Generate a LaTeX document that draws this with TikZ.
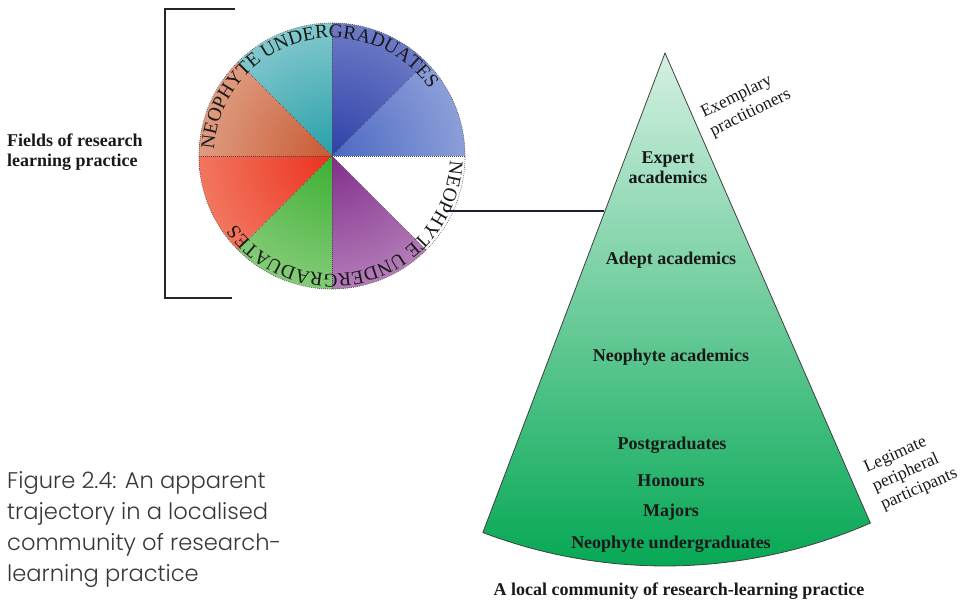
\documentclass[tikz,border=0pt]{standalone}
\usepackage{fontspec}
\setmainfont{Liberation Serif}
\newfontfamily\capfont{Poppins Light}
\usetikzlibrary{decorations.text}
\pgfdeclareradialshading[wedgein,wedgeout]{wedgeshade}{\pgfpointorigin}{color(0bp)=(wedgein); color(50bp)=(wedgeout)}
\definecolor{ink}{RGB}{25,25,25}
\definecolor{capgray}{RGB}{55,55,55}
\definecolor{coneTop}{RGB}{212,240,226}
\definecolor{coneMid}{RGB}{125,208,165}
\definecolor{coneBot}{RGB}{0,166,81}
\definecolor{linkcol}{RGB}{30,30,55}
\newcommand\wedgepiece[4]{%
  \colorlet{wedgein}{#3}\colorlet{wedgeout}{#4}%
  \begin{scope}
    \clip (0,0) -- (#1:133pt) arc[start angle=#1, end angle=#2, radius=133pt] -- cycle;
    \shade[shading=wedgeshade] (0,0) circle[radius=133pt];
  \end{scope}}
\tikzset{
  dotline/.style={draw=black!70, line width=0.7pt, dash pattern=on 0.7pt off 1.3pt},
  lbl/.style={font=\fontsize{18}{20}\selectfont\bfseries, text=ink, inner sep=0pt},
  sidelbl/.style={font=\fontsize{17.5}{20.5}\selectfont, text=ink, inner sep=0pt, align=left},
  bracketline/.style={draw=black!85, line width=2pt},
  conn/.style={draw=linkcol, line width=1.6pt},
}
\begin{document}
\begin{tikzpicture}[x=1pt,y=1pt]
\useasboundingbox (0,0) rectangle (962,-601);
% ---- circle of fields ----
\begin{scope}[shift={(332,-156)}]
  \wedgepiece{0}{45}{rgb,255:red,75;green,105;blue,195}{rgb,255:red,205;green,212;blue,238}
  \wedgepiece{45}{90}{rgb,255:red,45;green,65;blue,170}{rgb,255:red,175;green,180;blue,225}
  \wedgepiece{90}{135}{rgb,255:red,40;green,160;blue,170}{rgb,255:red,222;green,240;blue,240}
  \wedgepiece{135}{180}{rgb,255:red,200;green,90;blue,50}{rgb,255:red,245;green,222;blue,208}
  \wedgepiece{180}{225}{rgb,255:red,235;green,50;blue,30}{rgb,255:red,250;green,185;blue,160}
  \wedgepiece{225}{270}{rgb,255:red,60;green,175;blue,50}{rgb,255:red,205;green,232;blue,190}
  \wedgepiece{270}{315}{rgb,255:red,130;green,45;blue,140}{rgb,255:red,228;green,205;blue,228}
  \foreach \a in {0,45,...,315} \draw[dotline] (0,0) -- (\a:133pt);
  \draw[dotline] (0,0) circle[radius=133pt];
  \path[decorate, decoration={text along path, text align=center,
     text={|\fontsize{19.5}{20}\selectfont\color{ink}|NEOPHYTE UNDERGRADUATES}}]
     (195.5:118pt) arc[start angle=195.5, end angle=15.5, radius=118pt];
  \path[decorate, decoration={text along path, text align=center,
     text={|\fontsize{19.5}{20}\selectfont\color{ink}|NEOPHYTE UNDERGRADUATES}}]
     (16.5:118pt) arc[start angle=16.5, end angle=-163.5, radius=118pt];
\end{scope}
% ---- bracket ----
\draw[bracketline] (235,-9) -- (165,-9) -- (165,-298) -- (232,-298);
\node[lbl, anchor=north west, align=left] (fields) at (7,-133.5) {Fields of research\\learning practice};
% ---- cone ----
\coordinate (apex) at (665,-53);
\shade[top color=coneTop, middle color=coneMid, bottom color=coneBot, draw=black!75, line width=0.8pt]
  (apex) -- ++(249.2:513pt) arc[start angle=249.2, end angle=293.6, radius=513pt] -- cycle;
% ---- connector ----
\coordinate (wheelLink) at (446,-211);
\coordinate (coneLink) at (604,-211);
\draw[conn] (wheelLink) -- (coneLink);
% ---- cone labels ----
\node[lbl, anchor=north, align=center] (expert) at (668,-151.5) {Expert\\academics};
\node[lbl, anchor=base] (adept) at (671,-265) {Adept academics};
\node[lbl, anchor=base] (neoacad) at (671,-362) {Neophyte academics};
\node[lbl, anchor=base] (postgrad) at (672,-450) {Postgraduates};
\node[lbl, anchor=base] (honours) at (671,-487) {Honours};
\node[lbl, anchor=base] (majors) at (671,-517) {Majors};
\node[lbl, anchor=base] (neoundergrad) at (671,-549) {Neophyte undergraduates};
\node[lbl, anchor=base] (community) at (679,-595) {A local community of research-learning practice};
\node[sidelbl, rotate=26] (exemplary) at (746,-104) {Exemplary\\practitioners};
\node[sidelbl, rotate=24] (legit) at (911,-471) {Legimate\\peripheral\\participants};
% ---- caption ----
\node[anchor=north west, align=left, inner sep=0pt, text=capgray,
      font=\capfont\fontsize{22.6}{31}\selectfont] (caption) at (7,-471.5)
  {Figure 2.4: An apparent\\trajectory in a localised\\community of research-\\learning practice};
\end{tikzpicture}
\end{document}
